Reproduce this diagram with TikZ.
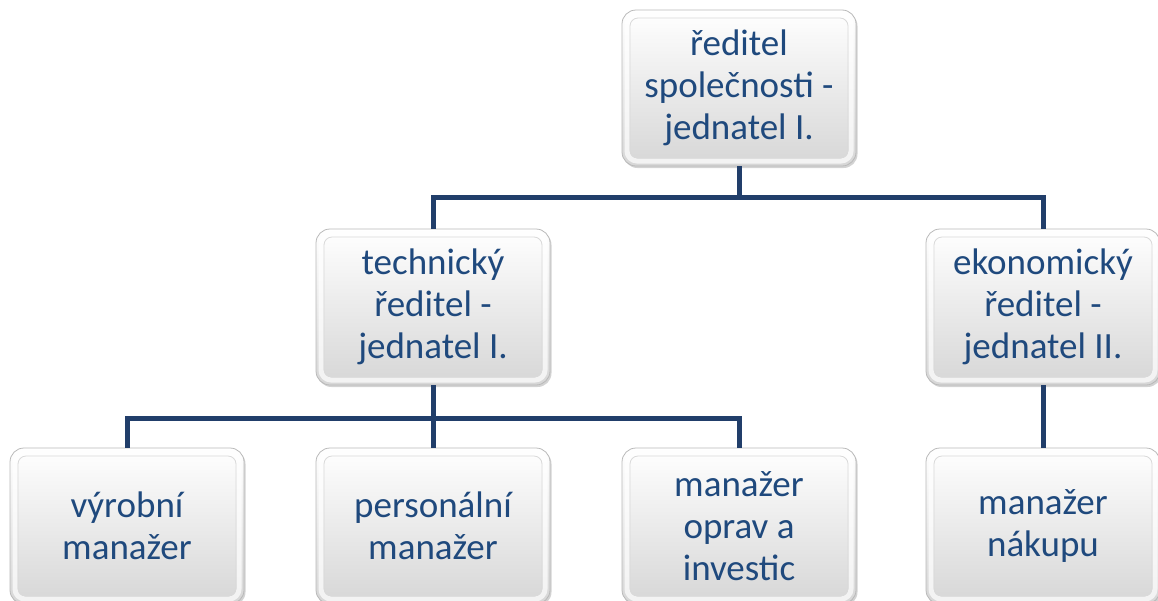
\documentclass[tikz,border=0pt]{standalone}
\usepackage{fontspec}
\setmainfont{Carlito}
\usetikzlibrary{shadows}
\definecolor{txtblue}{RGB}{31,73,125}
\definecolor{lineblue}{RGB}{33,62,106}
\tikzset{
  orgbox/.style={rounded corners=14pt, minimum width=234pt, minimum height=156pt,
    inner sep=0pt, draw=gray!55, line width=0.8pt, top color=white, bottom color=gray!32,
    drop shadow={opacity=0.35, shadow xshift=1.5pt, shadow yshift=-2pt},
    path picture={
      \draw[white, line width=5pt, opacity=0.7, rounded corners=10pt]
        ([shift={(5pt,-5pt)}]path picture bounding box.north west) rectangle
        ([shift={(-5pt,5pt)}]path picture bounding box.south east);
      \draw[gray!30, line width=0.8pt, rounded corners=8pt]
        ([shift={(8pt,-8pt)}]path picture bounding box.north west) rectangle
        ([shift={(-8pt,8pt)}]path picture bounding box.south east);},
    text=txtblue, align=center, font=\fontsize{37}{42}\selectfont},
  orgline/.style={draw=lineblue, line width=5pt}
}
\begin{document}
\begin{tikzpicture}[x=1pt,y=-1pt]
    \useasboundingbox (0,0) rectangle (1158,600);
    \node[orgbox] (reditel) at (739,88) {ředitel\\ společnosti -\\ jednatel I.};
    \node[orgbox] (tech) at (433,307) {technický\\ ředitel -\\ jednatel I.};
    \node[orgbox] (eko) at (1043,307) {ekonomický\\ ředitel -\\ jednatel II.};
    \node[orgbox] (vyr) at (127,526) {výrobní\\ manažer};
    \node[orgbox] (pers) at (433,526) {personální\\ manažer};
    \node[orgbox] (opr) at (739,526) {manažer\\ oprav a\\ investic};
    \node[orgbox] (nak) at (1043,526) {manažer\\ nákupu};
    \coordinate (bus1) at (739,197);
    \coordinate (bus2) at (433,418);
    \draw[orgline] (reditel) to (bus1);
    \draw[orgline] (bus1) -| (tech);
    \draw[orgline] (bus1) -| (eko);
    \draw[orgline] (tech) to (bus2);
    \draw[orgline] (bus2) -| (vyr);
    \draw[orgline] (bus2) to (pers);
    \draw[orgline] (bus2) -| (opr);
    \draw[orgline] (eko) to (nak);
  \end{tikzpicture}
\end{document}
